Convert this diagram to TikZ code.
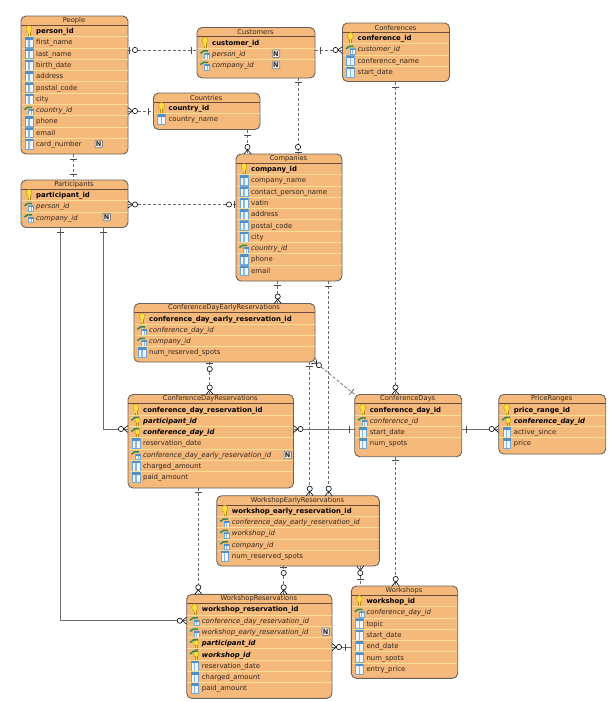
\documentclass[tikz,border=0pt]{standalone}
\usepackage{fontspec}
\setmainfont{DejaVu Sans}
\usepackage{xcolor}
\usetikzlibrary{calc}
\definecolor{tablefill}{HTML}{F5B97C}
\definecolor{tableline}{HTML}{6B615B}
\definecolor{headline}{HTML}{6A4A3A}
\definecolor{rowline}{HTML}{F6DE96}
\definecolor{ink}{HTML}{33261C}
\definecolor{relline}{HTML}{6B6B6B}
\definecolor{keygold}{HTML}{FBDD3E}
\definecolor{keyedge}{HTML}{B98A12}
\definecolor{colblue}{HTML}{4F90C8}
\definecolor{colpale}{HTML}{EEF5FB}
\definecolor{fkgreen}{HTML}{2E8B57}
\tikzset{
  font=\fontsize{6.9}{8}\selectfont,
  tablebox/.style={rounded corners=5pt, draw=tableline, line width=0.9pt, fill=tablefill,
    inner sep=0pt, outer sep=0pt},
  tabletitle/.style={font=\fontsize{6.7}{8}\selectfont, text=ink, inner sep=0pt},
  rowcol/.style={text=ink, inner sep=0pt, anchor=base west},
  rowpk/.style={rowcol, text=black, font=\fontsize{6.9}{8}\selectfont\bfseries},
  rowfk/.style={rowcol, font=\fontsize{6.9}{8}\selectfont\itshape},
  rowpf/.style={rowcol, text=black, font=\fontsize{6.9}{8}\selectfont\bfseries\itshape},
  nullbox/.style={draw=gray, fill=black!8, rounded corners=1pt, line width=0.7pt, text=ink,
    font=\fontsize{6.6}{7}\selectfont\bfseries, inner sep=0pt, minimum size=7.5pt},
  headsep/.style={draw=headline, line width=0.9pt},
  rowsep/.style={draw=rowline, line width=0.8pt},
  solidrel/.style={draw=relline, line width=0.7pt},
  dashrel/.style={solidrel, dash pattern=on 3pt off 2pt},
  endline/.style={solid, draw=black!70, line width=0.6pt},
  keypart/.style={fill=keygold, draw=keyedge, line width=0.35pt},
  atstart/.style={pos=0, sloped, allow upside down},
  atend/.style={pos=1, sloped, allow upside down, xscale=-1},
  pics/endbar/.style={code={\draw[endline] (#1,-3.5) -- (#1,3.5);}},
  pics/endbar/.default=5,
  pics/zeromany/.style={code={
    \draw[endline, draw=black] (0,-3.5) -- (4.5,0) -- (0,3.5);
    \draw[endline, draw=black, fill=white] (7,0) circle (2.6);}},
  pics/zeroone/.style={code={
    \draw[endline] (1.5,-3.5) -- (1.5,3.5);
    \draw[endline, draw=black, fill=white] (7,0) circle (2.6);}},
  pics/iconpk/.style={code={
    \draw[keypart] (-1,-1) rectangle (1,5.5);
    \draw[keypart] (0,-2) ellipse (3 and 3.6);
    \fill[keygold] (-0.8,0) rectangle (0.8,3);}},
  pics/iconcol/.style={code={
    \fill[colpale, draw=colblue!80, line width=0.5pt] (-3.8,-5) rectangle (3.8,5);
    \fill[colblue] (-3.8,-5) rectangle (3.8,-2.6);
    \fill[colblue!65] (-0.6,-2.6) rectangle (0.6,5);}},
  pics/iconfk/.style={code={
    \fill[colpale, draw=colblue!80, line width=0.5pt] (-0.5,-0.8) rectangle (4.6,5);
    \fill[colblue] (-0.5,-0.8) rectangle (4.6,1);
    \fill[colblue!65] (1.6,1) rectangle (2.5,5);
    \draw[fkgreen, line width=1.5pt] (-4.6,-0.5) to[out=65, in=175] (3.2,-2.8);}},
  pics/iconpf/.style={code={
    \draw[keypart] (0.6,0) rectangle (2.6,5.5);
    \draw[keypart] (1.6,-0.4) ellipse (2.7 and 2.9);
    \draw[fkgreen, line width=1.5pt] (-4.6,-0.5) to[out=65, in=175] (3.2,-3.6);}}
}
% name, left, top, width, height, title, rows
\newcommand{\erdtable}[7]{
  \node[tablebox, minimum width=#4pt, minimum height=#5pt, anchor=north west] (#1) at (#2,#3) {};
  \node[tabletitle] (#1-title) at ($(#1.north)+(-0.5,4.5)$) {#6};
  \draw[headsep] (#2,#3+9.3) -- ++(#4,0);
  \foreach \kind/\coltext [count=\i] in {#7} {
    \pgfmathsetmacro{\rowy}{#3+15+11.3*(\i-1)}
    \ifnum\i>1 \draw[rowsep] (#2+0.5,\rowy-5.65) -- ++(#4-1,0); \fi
    \pic at (#2+8,\rowy) {icon\kind};
    \node[row\kind] (#1-\i) at (#2+15,\rowy+2.5) {\coltext};
  }
}
\begin{document}
\begin{tikzpicture}[x=1pt,y=-1pt]
  \useasboundingbox (0,0) rectangle (609,702);

  % tables
  \erdtable{people}{21}{16}{107}{138}{People}{pk/person\_id, col/first\_name, col/last\_name, col/birth\_date, col/address, col/postal\_code, col/city, fk/country\_id, col/phone, col/email, col/card\_number}
  \erdtable{customers}{197}{27.5}{118}{50.5}{Customers}{pk/customer\_id, fk/person\_id, fk/company\_id}
  \erdtable{conferences}{342.5}{23}{107}{58.5}{Conferences}{pk/conference\_id, fk/customer\_id, col/conference\_name, col/start\_date}
  \erdtable{countries}{153.5}{93}{106.5}{36.5}{Countries}{pk/country\_id, col/country\_name}
  \erdtable{participants}{21}{180}{107}{47.5}{Participants}{pk/participant\_id, fk/person\_id, fk/company\_id}
  \erdtable{companies}{236}{154}{106}{127}{Companies}{pk/company\_id, col/company\_name, col/contact\_person\_name, col/vatin, col/address, col/postal\_code, col/city, fk/country\_id, col/phone, col/email}
  \erdtable{earlydays}{134}{303.5}{181}{58.5}{ConferenceDayEarlyReservations}{pk/conference\_day\_early\_reservation\_id, fk/conference\_day\_id, fk/company\_id, col/num\_reserved\_spots}
  \erdtable{dayres}{128}{394.5}{165.5}{93.5}{ConferenceDayReservations}{pk/conference\_day\_reservation\_id, pf/participant\_id, pf/conference\_day\_id, col/reservation\_date, fk/conference\_day\_early\_reservation\_id, col/charged\_amount, col/paid\_amount}
  \erdtable{confdays}{354.7}{394.5}{107}{62.2}{ConferenceDays}{pk/conference\_day\_id, fk/conference\_id, col/start\_date, col/num\_spots}
  \erdtable{prices}{498.7}{394.5}{107}{59.5}{PriceRanges}{pk/price\_range\_id, pf/conference\_day\_id, col/active\_since, col/price}
  \erdtable{earlyshops}{216.7}{495.7}{162.6}{70.3}{WorkshopEarlyReservations}{pk/workshop\_early\_reservation\_id, fk/conference\_day\_early\_reservation\_id, fk/workshop\_id, fk/company\_id, col/num\_reserved\_spots}
  \erdtable{shopres}{186.7}{594.3}{145.3}{104}{WorkshopReservations}{pk/workshop\_reservation\_id, fk/conference\_day\_reservation\_id, fk/workshop\_early\_reservation\_id, pf/participant\_id, pf/workshop\_id, col/reservation\_date, col/charged\_amount, col/paid\_amount}
  \erdtable{workshops}{351.3}{586}{106.4}{92.3}{Workshops}{pk/workshop\_id, fk/conference\_day\_id, col/topic, col/start\_date, col/end\_date, col/num\_spots, col/entry\_price}

  % nullable marks
  \node[nullbox] (peoplenull)   at (98.7,144)   {N};
  \node[nullbox] (custnulla)    at (276,53.7)   {N};
  \node[nullbox] (custnullb)    at (276,65)     {N};
  \node[nullbox] (partnull)     at (106.7,217)  {N};
  \node[nullbox] (dayresnull)   at (287.7,455)  {N};
  \node[nullbox] (shopresnull)  at (325.7,631.7){N};

  % edges
  \draw[dashrel] (people.east |- 0,50) -- (customers.west |- 0,50) pic[atstart]{zeroone} pic[atend]{endbar=5.5};
  \draw[dashrel] (customers.east |- 0,50) -- (conferences.west |- 0,50) pic[atstart]{endbar=5.5} pic[atend]{zeromany};
  \draw[dashrel] (people.east |- 0,111) -- (countries.west |- 0,111) pic[atstart]{zeromany} pic[atend]{endbar=5.5};
  \draw[dashrel] (247.5,0 |- countries.south) -- (247.5,0 |- companies.north) pic[atstart]{endbar=5.5} pic[atend]{zeromany};
  \draw[dashrel] (298,0 |- customers.south) -- (298,0 |- companies.north) pic[atstart]{endbar=4} pic[atend]{zeroone};
  \draw[dashrel] (73.5,0 |- people.south) -- (73.5,0 |- participants.north) pic[atstart]{endbar=5} pic[atend]{endbar=6};
  \draw[dashrel] (participants.east |- 0,204.5) -- (companies.west |- 0,204.5) pic[atstart]{zeromany} pic[atend]{zeroone};
  \draw[solidrel] (60,0 |- participants.south) |- (shopres.west |- 0,620.7) pic[atstart]{endbar=4.5} pic[atend]{zeromany};
  \draw[solidrel] (103.5,0 |- participants.south) |- (dayres.west |- 0,429) pic[atstart]{endbar=4.5} pic[atend]{zeromany};
  \draw[dashrel] (395.5,0 |- conferences.south) -- (395.5,0 |- confdays.north) pic[atstart]{endbar=5.5} pic[atend]{zeromany};
  \draw[dashrel] (277.7,0 |- companies.south) -- (277.7,0 |- earlydays.north) pic[atstart]{endbar=4.5} pic[atend]{zeromany};
  \draw[dashrel] (328.7,0 |- companies.south) -- (328.7,0 |- earlyshops.north) pic[atstart]{endbar=5.5} pic[atend]{zeromany};
  \draw[dashrel] (309.7,0 |- earlydays.south) -- (309.7,0 |- earlyshops.north) pic[atstart]{endbar=4.5} pic[atend]{zeromany};
  \draw[dashrel] (209.7,0 |- earlydays.south) -- (209.7,0 |- dayres.north) pic[atstart]{zeroone} pic[atend]{zeromany};
  \draw[dashrel] ($(earlydays.south east)+(-1.5,-1.2)$) -- (confdays.north west) pic[atstart]{zeromany} pic[atend]{endbar=4};
  \draw[solidrel] (dayres.east |- 0,429) -- (confdays.west |- 0,429) pic[atstart]{zeromany} pic[atend]{endbar=5.5};
  \draw[solidrel] (confdays.east |- 0,429) -- (prices.west |- 0,429) pic[atstart]{endbar=4.5} pic[atend]{zeromany};
  \draw[dashrel] (395.7,0 |- confdays.south) -- (395.7,0 |- workshops.north) pic[atstart]{endbar=4} pic[atend]{zeromany};
  \draw[dashrel] (198.3,0 |- dayres.south) -- (198.3,0 |- shopres.north) pic[atstart]{endbar=4} pic[atend]{zeromany};
  \draw[dashrel] (283.7,0 |- earlyshops.south) -- (283.7,0 |- shopres.north) pic[atstart]{zeroone} pic[atend]{zeromany};
  \draw[dashrel] (360.3,0 |- earlyshops.south) -- (360.3,0 |- workshops.north) pic[atstart]{zeromany} pic[atend]{endbar=6.5};
  \draw[solidrel] (workshops.west |- 0,647) -- (shopres.east |- 0,647) pic[atstart]{endbar=6} pic[atend]{zeromany};
\end{tikzpicture}
\end{document}
